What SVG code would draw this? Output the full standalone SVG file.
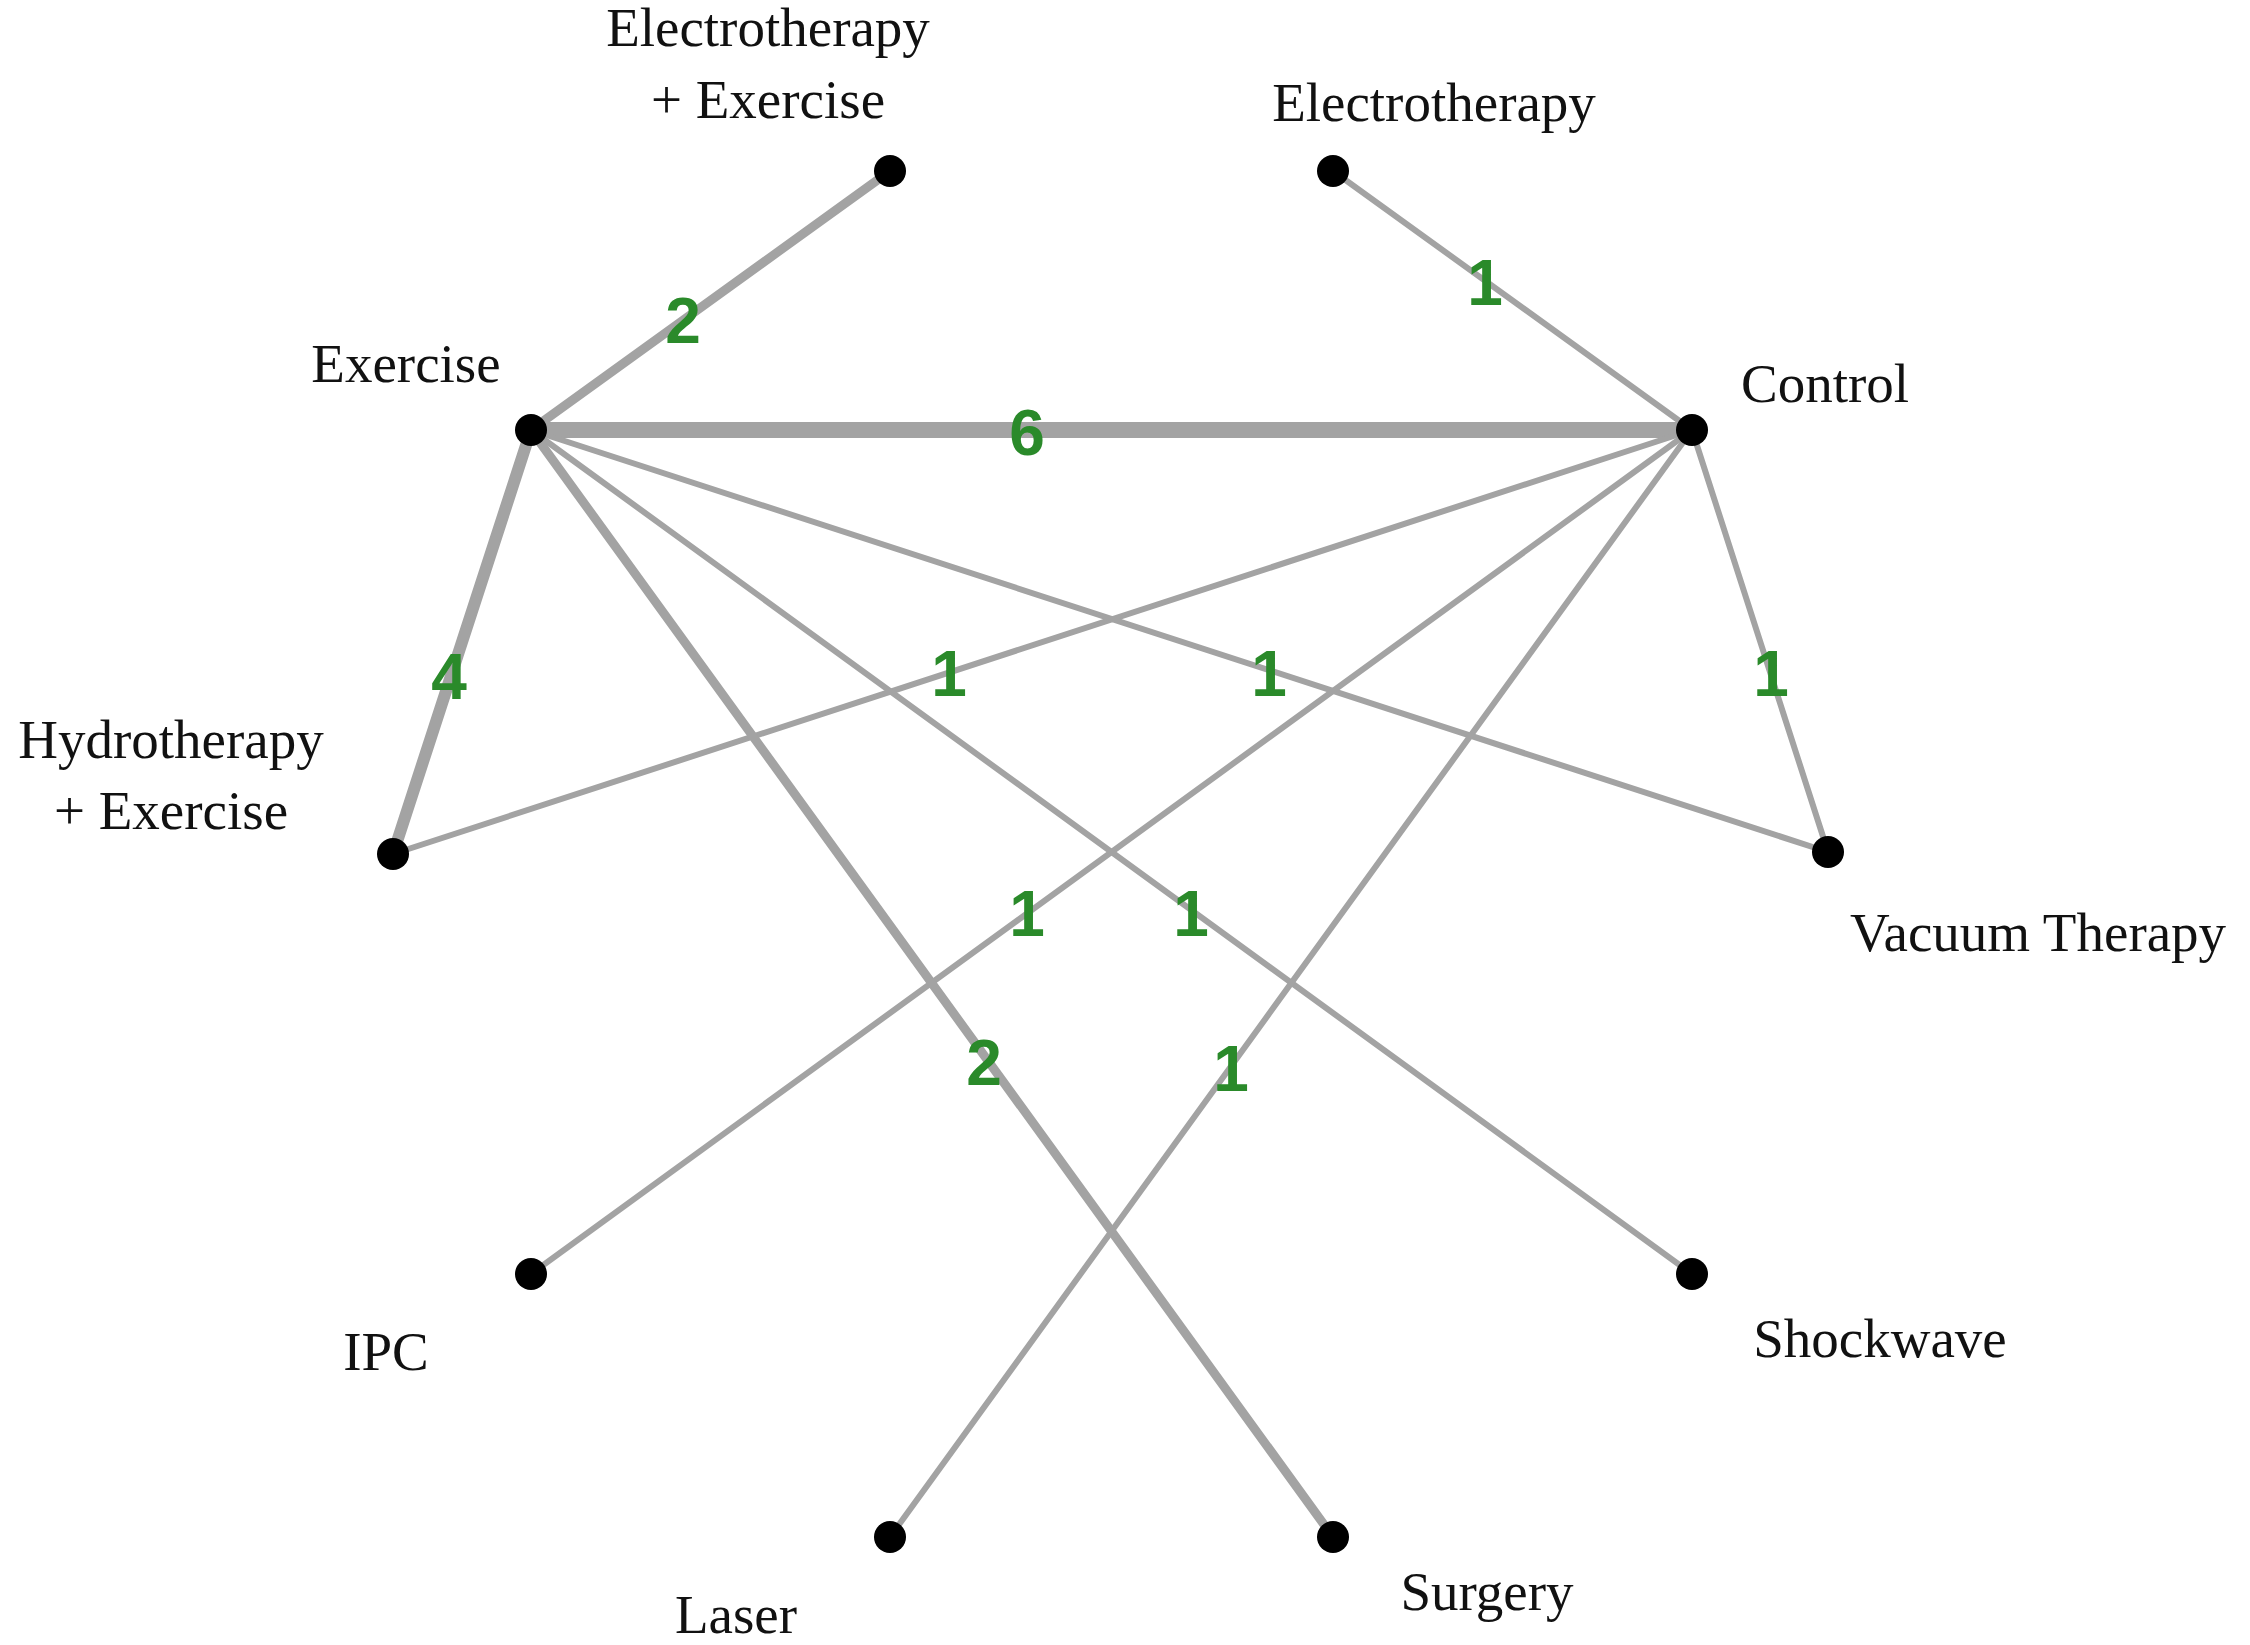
<svg xmlns="http://www.w3.org/2000/svg" width="2250" height="1645" viewBox="0 0 2250 1645">
<style>
.e{stroke:#a3a3a3;stroke-linecap:round;fill:none}
.n{fill:#000}
.t{font-family:"Liberation Serif",serif;font-size:55px;fill:#111;text-anchor:middle}
.w{font-family:"Liberation Sans",sans-serif;font-weight:bold;font-size:64px;fill:#2a8a2a;text-anchor:middle;dominant-baseline:central}
</style>
<rect width="2250" height="1645" fill="#fff"/>
<g id="connectors">
<line class="e" x1="531" y1="430" x2="890" y2="171" stroke-width="9"/>
<line class="e" x1="1333" y1="171" x2="1692" y2="430" stroke-width="6"/>
<line class="e" x1="531" y1="430" x2="1692" y2="430" stroke-width="16"/>
<line class="e" x1="531" y1="430" x2="393" y2="854" stroke-width="12"/>
<line class="e" x1="1692" y1="430" x2="393" y2="854" stroke-width="6"/>
<line class="e" x1="531" y1="430" x2="1828" y2="852" stroke-width="6"/>
<line class="e" x1="1692" y1="430" x2="1828" y2="852" stroke-width="6"/>
<line class="e" x1="1692" y1="430" x2="531" y2="1274" stroke-width="6"/>
<line class="e" x1="531" y1="430" x2="1692" y2="1274" stroke-width="6"/>
<line class="e" x1="531" y1="430" x2="1333" y2="1537" stroke-width="9"/>
<line class="e" x1="1692" y1="430" x2="890" y2="1537" stroke-width="6"/>
<text class="w" x="683" y="321">2</text>
<text class="w" x="1485" y="283">1</text>
<text class="w" x="1027" y="433">6</text>
<text class="w" x="449" y="677">4</text>
<text class="w" x="949" y="674">1</text>
<text class="w" x="1269" y="674">1</text>
<text class="w" x="1771" y="674">1</text>
<text class="w" x="1027" y="914">1</text>
<text class="w" x="1191" y="914">1</text>
<text class="w" x="984" y="1063">2</text>
<text class="w" x="1231" y="1069">1</text>
</g>
<g id="elecex"><circle class="n" cx="890" cy="171" r="16"/><text class="t" x="768" y="46">Electrotherapy</text><text class="t" x="768" y="118">+ Exercise</text></g>
<g id="elec"><circle class="n" cx="1333" cy="171" r="16"/><text class="t" x="1434" y="121">Electrotherapy</text></g>
<g id="exercise"><circle class="n" cx="531" cy="430" r="16"/><text class="t" x="406" y="382">Exercise</text></g>
<g id="control"><circle class="n" cx="1692" cy="430" r="16"/><text class="t" x="1741" y="402" style="text-anchor:start">Control</text></g>
<g id="hydro"><circle class="n" cx="393" cy="854" r="16"/><text class="t" x="171" y="758">Hydrotherapy</text><text class="t" x="171" y="829">+ Exercise</text></g>
<g id="vacuum"><circle class="n" cx="1828" cy="852" r="16"/><text class="t" x="2038" y="951">Vacuum Therapy</text></g>
<g id="ipc"><circle class="n" cx="531" cy="1274" r="16"/><text class="t" x="386" y="1370">IPC</text></g>
<g id="shockwave"><circle class="n" cx="1692" cy="1274" r="16"/><text class="t" x="1880" y="1357">Shockwave</text></g>
<g id="laser"><circle class="n" cx="890" cy="1537" r="16"/><text class="t" x="736" y="1633">Laser</text></g>
<g id="surgery"><circle class="n" cx="1333" cy="1537" r="16"/><text class="t" x="1487" y="1610">Surgery</text></g>
</svg>
